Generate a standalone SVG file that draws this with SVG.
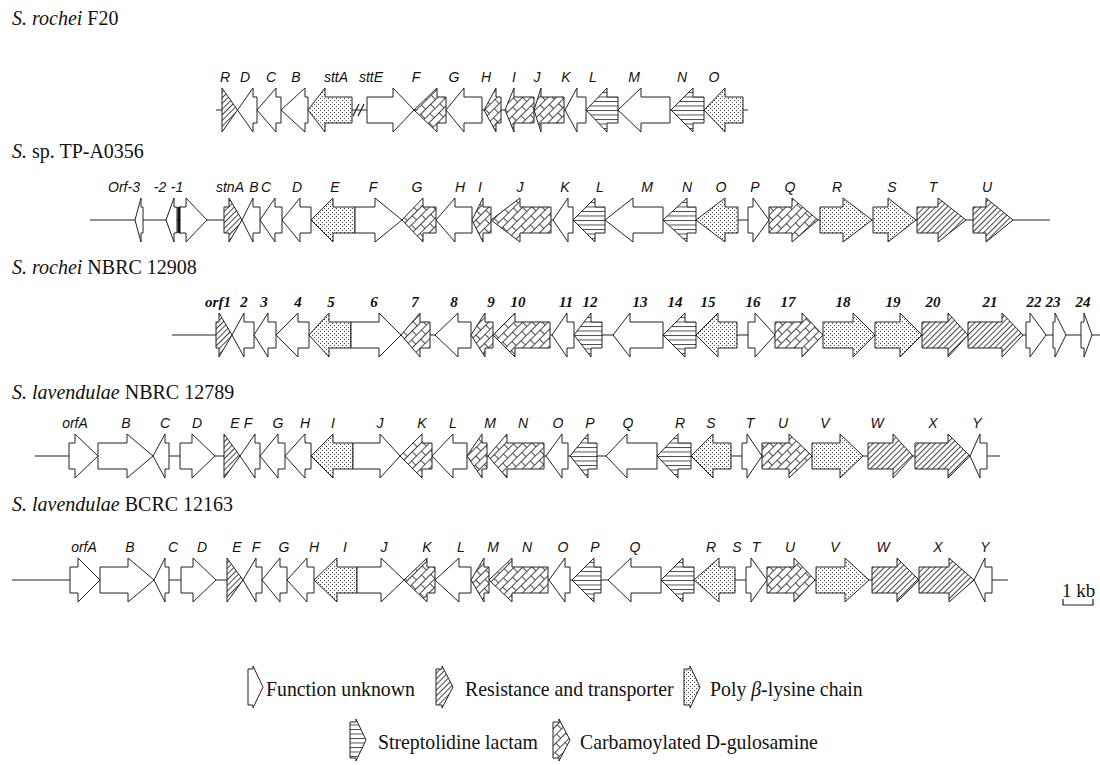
<svg xmlns="http://www.w3.org/2000/svg" width="1100" height="765" viewBox="0 0 1100 765">
<defs>
<pattern id="hatch" patternUnits="userSpaceOnUse" width="4" height="4" patternTransform="rotate(45)"><rect width="4" height="4" fill="#fff"/><line x1="0.5" y1="0" x2="0.5" y2="4" stroke="#333" stroke-width="0.9"/></pattern>
<pattern id="dots" patternUnits="userSpaceOnUse" width="4" height="4"><rect width="4" height="4" fill="#fff"/><rect x="0" y="0" width="1" height="1" fill="#444"/><rect x="2" y="2" width="1" height="1" fill="#444"/></pattern>
<pattern id="hlines" patternUnits="userSpaceOnUse" width="6" height="4.5"><rect width="6" height="4.5" fill="#fff"/><line x1="0" y1="0.5" x2="6" y2="0.5" stroke="#333" stroke-width="0.9"/></pattern>
<pattern id="brick" patternUnits="userSpaceOnUse" width="14" height="12" patternTransform="rotate(-45)"><rect width="14" height="12" fill="#fff"/><path d="M0,0.5 H14 M0,6.5 H14 M0.5,0.5 V6.5 M7.5,6.5 V12" stroke="#333" stroke-width="0.9" fill="none"/></pattern>
</defs>
<style>
polygon{stroke:#222;stroke-width:1;stroke-linejoin:miter}
.u{fill:#fff}.r{fill:url(#hatch)}.p{fill:url(#dots)}.s{fill:url(#hlines)}.c{fill:url(#brick)}
.ax{stroke:#222;stroke-width:1.2;fill:none}
.title{font-family:"Liberation Serif",serif;font-size:20px;fill:#111}
.gl{font-family:"Liberation Sans",Arial,sans-serif;font-size:14px;font-style:italic;fill:#111;text-anchor:middle}
.gn{font-family:"Liberation Serif",serif;font-size:15px;font-style:italic;font-weight:bold;fill:#111;text-anchor:middle}
.lg{font-family:"Liberation Serif",serif;font-size:22px;fill:#111}
.it{font-style:italic}
</style>
<rect width="1100" height="765" fill="#fff"/>

<g id="titles">
<text class="title" x="12" y="25"><tspan class="it">S. rochei</tspan> F20</text>
<text class="title" x="12" y="158"><tspan class="it">S.</tspan> sp. TP-A0356</text>
<text class="title" x="12" y="274"><tspan class="it">S. rochei</tspan> NBRC 12908</text>
<text class="title" x="12" y="399"><tspan class="it">S. lavendulae</tspan> NBRC 12789</text>
<text class="title" x="12" y="511"><tspan class="it">S. lavendulae</tspan> BCRC 12163</text>
</g>

<g id="connectors">
<line class="ax" x1="216" y1="110" x2="748" y2="110"/>
<line class="ax" x1="353" y1="116" x2="359" y2="104"/>
<line class="ax" x1="358" y1="116" x2="364" y2="104"/>
<line class="ax" x1="90" y1="220" x2="1050" y2="220"/>
<line class="ax" x1="172" y1="335" x2="1100" y2="335"/>
<line class="ax" x1="35" y1="456" x2="1000" y2="456"/>
<line class="ax" x1="12" y1="580" x2="1008" y2="580"/>
</g>

<!-- Row 1 -->
<g transform="translate(0,110)">
<g id="r1-R"><polygon class="r" points="222,-22 237.5,0 222,22"/><text class="gl" x="225" y="-28">R</text></g>
<g id="r1-D"><polygon class="u" points="237.5,0 253,-22 253,-13 257,-13 257,13 253,13 253,22"/><text class="gl" x="245" y="-28">D</text></g>
<g id="r1-C"><polygon class="u" points="257,0 276,-22 276,-13 281,-13 281,13 276,13 276,22"/><text class="gl" x="271" y="-28">C</text></g>
<g id="r1-B"><polygon class="u" points="281,0 305,-22 305,-13 308,-13 308,13 305,13 305,22"/><text class="gl" x="296" y="-28">B</text></g>
<g id="r1-sttA"><polygon class="p" points="308,0 325,-22 325,-13 352,-13 352,13 325,13 325,22"/><text class="gl" x="336" y="-28">sttA</text></g>
<g id="r1-sttE"><polygon class="u" points="367,-13 393,-13 393,-22 414,0 393,22 393,13 367,13"/><text class="gl" x="371" y="-28">sttE</text></g>
<g id="r1-F"><polygon class="c" points="414,0 437,-22 437,-13 446,-13 446,13 437,13 437,22"/><text class="gl" x="416" y="-28">F</text></g>
<g id="r1-G"><polygon class="u" points="446,0 464,-22 464,-13 482,-13 482,13 464,13 464,22"/><text class="gl" x="454" y="-28">G</text></g>
<g id="r1-H"><polygon class="c" points="484,0 496,-22 496,-13 501,-13 501,13 496,13 496,22"/><text class="gl" x="486" y="-28">H</text></g>
<g id="r1-I"><polygon class="c" points="505,0 514,-22 514,-13 534,-13 534,13 514,13 514,22"/><text class="gl" x="514" y="-28">I</text></g>
<g id="r1-J"><polygon class="c" points="534,0 541,-22 541,-13 564,-13 564,13 541,13 541,22"/><text class="gl" x="537" y="-28">J</text></g>
<g id="r1-K"><polygon class="u" points="565,0 577,-22 577,-13 586,-13 586,13 577,13 577,22"/><text class="gl" x="566" y="-28">K</text></g>
<g id="r1-L"><polygon class="s" points="586,0 607,-22 607,-13 618,-13 618,13 607,13 607,22"/><text class="gl" x="593" y="-28">L</text></g>
<g id="r1-M"><polygon class="u" points="618,0 641,-22 641,-13 670,-13 670,13 641,13 641,22"/><text class="gl" x="634" y="-28">M</text></g>
<g id="r1-N"><polygon class="s" points="671,0 693,-22 693,-13 704,-13 704,13 693,13 693,22"/><text class="gl" x="682" y="-28">N</text></g>
<g id="r1-O"><polygon class="p" points="704,0 725,-22 725,-13 743,-13 743,13 725,13 725,22"/><text class="gl" x="714" y="-28">O</text></g>
</g>

<!-- Row 2 -->
<g transform="translate(0,220)">
<g id="r2-orf-3"><polygon class="u" points="135,0 141,-22 141,-13 143,-13 143,13 141,13 141,22"/><text class="gl" x="124" y="-28">Orf-3</text></g>
<g id="r2-m2"><polygon class="u" points="166,0 174,-22 174,-13 177,-13 177,13 174,13 174,22"/><text class="gl" x="160" y="-28">-2</text></g>
<g id="r2-m1"><polygon class="u" points="179,-13 186,-13 186,-22 207,0 186,22 186,13 179,13"/><line x1="179" y1="-13" x2="179" y2="13" stroke="#111" stroke-width="3"/><text class="gl" x="177" y="-28">-1</text></g>
<g id="r2-stnA"><polygon class="r" points="224,-13 229,-13 229,-22 242,0 229,22 229,13 224,13"/><text class="gl" x="230" y="-28">stnA</text></g>
<g id="r2-B"><polygon class="u" points="242,0 253,-22 253,-13 260,-13 260,13 253,13 253,22"/><text class="gl" x="254" y="-28">B</text></g>
<g id="r2-C"><polygon class="u" points="260,0 275,-22 275,-13 282,-13 282,13 275,13 275,22"/><text class="gl" x="266" y="-28">C</text></g>
<g id="r2-D"><polygon class="u" points="282,0 300,-22 300,-13 311,-13 311,13 300,13 300,22"/><text class="gl" x="297" y="-28">D</text></g>
<g id="r2-E"><polygon class="p" points="311,0 333,-22 333,-13 355,-13 355,13 333,13 333,22"/><text class="gl" x="335" y="-28">E</text></g>
<g id="r2-F"><polygon class="u" points="355,-13 375,-13 375,-22 402,0 375,22 375,13 355,13"/><text class="gl" x="373" y="-28">F</text></g>
<g id="r2-G"><polygon class="c" points="402,0 423,-22 423,-13 436,-13 436,13 423,13 423,22"/><text class="gl" x="417" y="-28">G</text></g>
<g id="r2-H"><polygon class="u" points="436,0 455,-22 455,-13 472,-13 472,13 455,13 455,22"/><text class="gl" x="460" y="-28">H</text></g>
<g id="r2-I"><polygon class="c" points="472,0 483,-22 483,-13 491,-13 491,13 483,13 483,22"/><text class="gl" x="480" y="-28">I</text></g>
<g id="r2-J"><polygon class="c" points="491,0 520,-22 520,-13 551,-13 551,13 520,13 520,22"/><text class="gl" x="520" y="-28">J</text></g>
<g id="r2-K"><polygon class="u" points="553,0 568,-22 568,-13 573,-13 573,13 568,13 568,22"/><text class="gl" x="565" y="-28">K</text></g>
<g id="r2-L"><polygon class="s" points="573,0 595,-22 595,-13 605,-13 605,13 595,13 595,22"/><text class="gl" x="600" y="-28">L</text></g>
<g id="r2-M"><polygon class="u" points="605,0 633,-22 633,-13 663,-13 663,13 633,13 633,22"/><text class="gl" x="647" y="-28">M</text></g>
<g id="r2-N"><polygon class="s" points="663,0 687,-22 687,-13 696,-13 696,13 687,13 687,22"/><text class="gl" x="687" y="-28">N</text></g>
<g id="r2-O"><polygon class="p" points="696,0 725,-22 725,-13 738,-13 738,13 725,13 725,22"/><text class="gl" x="721" y="-28">O</text></g>
<g id="r2-P"><polygon class="u" points="748,-13 753,-13 753,-22 769,0 753,22 753,13 748,13"/><text class="gl" x="755" y="-28">P</text></g>
<g id="r2-Q"><polygon class="c" points="769,-13 792,-13 792,-22 818,0 792,22 792,13 769,13"/><text class="gl" x="790" y="-28">Q</text></g>
<g id="r2-R"><polygon class="p" points="820,-13 843,-13 843,-22 872,0 843,22 843,13 820,13"/><text class="gl" x="837" y="-28">R</text></g>
<g id="r2-S"><polygon class="p" points="873,-13 888,-13 888,-22 916,0 888,22 888,13 873,13"/><text class="gl" x="892" y="-28">S</text></g>
<g id="r2-T"><polygon class="r" points="917,-13 938,-13 938,-22 966,0 938,22 938,13 917,13"/><text class="gl" x="933" y="-28">T</text></g>
<g id="r2-U"><polygon class="r" points="973,-13 986,-13 986,-22 1013,0 986,22 986,13 973,13"/><text class="gl" x="987" y="-28">U</text></g>
</g>

<!-- Row 3 -->
<g transform="translate(0,335)">
<g id="r3-orf1"><polygon class="r" points="216,-13 219,-13 219,-22 232,0 219,22 219,13 216,13"/><text class="gn" x="218" y="-28">orf1</text></g>
<g id="r3-2"><polygon class="u" points="232,0 244,-22 244,-13 254,-13 254,13 244,13 244,22"/><text class="gn" x="244" y="-28">2</text></g>
<g id="r3-3"><polygon class="u" points="254,0 268,-22 268,-13 276,-13 276,13 268,13 268,22"/><text class="gn" x="264" y="-28">3</text></g>
<g id="r3-4"><polygon class="u" points="276,0 298,-22 298,-13 309,-13 309,13 298,13 298,22"/><text class="gn" x="298" y="-28">4</text></g>
<g id="r3-5"><polygon class="p" points="309,0 329,-22 329,-13 351,-13 351,13 329,13 329,22"/><text class="gn" x="331" y="-28">5</text></g>
<g id="r3-6"><polygon class="u" points="351,-13 379,-13 379,-22 401,0 379,22 379,13 351,13"/><text class="gn" x="374" y="-28">6</text></g>
<g id="r3-7"><polygon class="c" points="401,0 420,-22 420,-13 430,-13 430,13 420,13 420,22"/><text class="gn" x="415" y="-28">7</text></g>
<g id="r3-8"><polygon class="u" points="435,0 458,-22 458,-13 471,-13 471,13 458,13 458,22"/><text class="gn" x="454" y="-28">8</text></g>
<g id="r3-9"><polygon class="c" points="471,0 485,-22 485,-13 493,-13 493,13 485,13 485,22"/><text class="gn" x="491" y="-28">9</text></g>
<g id="r3-10"><polygon class="c" points="493,0 515,-22 515,-13 550,-13 550,13 515,13 515,22"/><text class="gn" x="518" y="-28">10</text></g>
<g id="r3-11"><polygon class="u" points="552,0 567,-22 567,-13 574,-13 574,13 567,13 567,22"/><text class="gn" x="566" y="-28">11</text></g>
<g id="r3-12"><polygon class="s" points="574,0 591,-22 591,-13 602,-13 602,13 591,13 591,22"/><text class="gn" x="590" y="-28">12</text></g>
<g id="r3-13"><polygon class="u" points="613,0 630,-22 630,-13 663,-13 663,13 630,13 630,22"/><text class="gn" x="640" y="-28">13</text></g>
<g id="r3-14"><polygon class="s" points="663,0 685,-22 685,-13 696,-13 696,13 685,13 685,22"/><text class="gn" x="675" y="-28">14</text></g>
<g id="r3-15"><polygon class="p" points="696,0 718,-22 718,-13 737,-13 737,13 718,13 718,22"/><text class="gn" x="708" y="-28">15</text></g>
<g id="r3-16"><polygon class="u" points="748,-13 755,-13 755,-22 775,0 755,22 755,13 748,13"/><text class="gn" x="753" y="-28">16</text></g>
<g id="r3-17"><polygon class="c" points="775,-13 802,-13 802,-22 823,0 802,22 802,13 775,13"/><text class="gn" x="788" y="-28">17</text></g>
<g id="r3-18"><polygon class="p" points="823,-13 853,-13 853,-22 875,0 853,22 853,13 823,13"/><text class="gn" x="843" y="-28">18</text></g>
<g id="r3-19"><polygon class="p" points="875,-13 900,-13 900,-22 922,0 900,22 900,13 875,13"/><text class="gn" x="893" y="-28">19</text></g>
<g id="r3-20"><polygon class="r" points="922,-13 948,-13 948,-22 968,0 948,22 948,13 922,13"/><text class="gn" x="933" y="-28">20</text></g>
<g id="r3-21"><polygon class="r" points="968,-13 1002,-13 1002,-22 1023,0 1002,22 1002,13 968,13"/><text class="gn" x="990" y="-28">21</text></g>
<g id="r3-22"><polygon class="u" points="1026,-13 1030,-13 1030,-22 1046,0 1030,22 1030,13 1026,13"/><text class="gn" x="1034" y="-28">22</text></g>
<g id="r3-23"><polygon class="u" points="1053,-13 1055,-13 1055,-22 1066,0 1055,22 1055,13 1053,13"/><text class="gn" x="1053" y="-28">23</text></g>
<g id="r3-24"><polygon class="u" points="1081,-13 1084,-13 1084,-22 1092,0 1084,22 1084,13 1081,13"/><text class="gn" x="1083" y="-28">24</text></g>
</g>

<!-- Row 4 -->
<g transform="translate(0,456)">
<g id="r4-orfA"><polygon class="u" points="69,-13 75,-13 75,-22 98,0 75,22 75,13 69,13"/><text class="gl" x="75" y="-28">orfA</text></g>
<g id="r4-B"><polygon class="u" points="98,-13 127,-13 127,-22 153,0 127,22 127,13 98,13"/><text class="gl" x="126" y="-28">B</text></g>
<g id="r4-C"><polygon class="u" points="153,0 165,-22 165,-13 169,-13 169,13 165,13 165,22"/><text class="gl" x="165" y="-28">C</text></g>
<g id="r4-D"><polygon class="u" points="180,-13 192,-13 192,-22 215,0 192,22 192,13 180,13"/><text class="gl" x="197" y="-28">D</text></g>
<g id="r4-E"><polygon class="r" points="224,-22 240,0 224,22"/><text class="gl" x="235" y="-28">E</text></g>
<g id="r4-F"><polygon class="u" points="240,0 255,-22 255,-13 260,-13 260,13 255,13 255,22"/><text class="gl" x="248" y="-28">F</text></g>
<g id="r4-G"><polygon class="u" points="260,0 278,-22 278,-13 285,-13 285,13 278,13 278,22"/><text class="gl" x="278" y="-28">G</text></g>
<g id="r4-H"><polygon class="u" points="285,0 305,-22 305,-13 311,-13 311,13 305,13 305,22"/><text class="gl" x="305" y="-28">H</text></g>
<g id="r4-I"><polygon class="p" points="311,0 333,-22 333,-13 353,-13 353,13 333,13 333,22"/><text class="gl" x="333" y="-28">I</text></g>
<g id="r4-J"><polygon class="u" points="353,-13 380,-13 380,-22 400,0 380,22 380,13 353,13"/><text class="gl" x="380" y="-28">J</text></g>
<g id="r4-K"><polygon class="c" points="400,0 422,-22 422,-13 432,-13 432,13 422,13 422,22"/><text class="gl" x="422" y="-28">K</text></g>
<g id="r4-L"><polygon class="u" points="432,0 453,-22 453,-13 467,-13 467,13 453,13 453,22"/><text class="gl" x="453" y="-28">L</text></g>
<g id="r4-M"><polygon class="c" points="467,0 482,-22 482,-13 487,-13 487,13 482,13 482,22"/><text class="gl" x="490" y="-28">M</text></g>
<g id="r4-N"><polygon class="c" points="488,0 507,-22 507,-13 544,-13 544,13 507,13 507,22"/><text class="gl" x="523" y="-28">N</text></g>
<g id="r4-O"><polygon class="u" points="546,0 562,-22 562,-13 568,-13 568,13 562,13 562,22"/><text class="gl" x="558" y="-28">O</text></g>
<g id="r4-P"><polygon class="s" points="570,0 588,-22 588,-13 597,-13 597,13 588,13 588,22"/><text class="gl" x="590" y="-28">P</text></g>
<g id="r4-Q"><polygon class="u" points="606,0 627,-22 627,-13 657,-13 657,13 627,13 627,22"/><text class="gl" x="628" y="-28">Q</text></g>
<g id="r4-R"><polygon class="s" points="657,0 678,-22 678,-13 691,-13 691,13 678,13 678,22"/><text class="gl" x="680" y="-28">R</text></g>
<g id="r4-S"><polygon class="p" points="691,0 713,-22 713,-13 731,-13 731,13 713,13 713,22"/><text class="gl" x="711" y="-28">S</text></g>
<g id="r4-T"><polygon class="u" points="742,-13 747,-13 747,-22 762,0 747,22 747,13 742,13"/><text class="gl" x="750" y="-28">T</text></g>
<g id="r4-U"><polygon class="c" points="762,-13 789,-13 789,-22 812,0 789,22 789,13 762,13"/><text class="gl" x="783" y="-28">U</text></g>
<g id="r4-V"><polygon class="p" points="812,-13 840,-13 840,-22 863,0 840,22 840,13 812,13"/><text class="gl" x="825" y="-28">V</text></g>
<g id="r4-W"><polygon class="r" points="868,-13 893,-13 893,-22 913,0 893,22 893,13 868,13"/><text class="gl" x="877" y="-28">W</text></g>
<g id="r4-X"><polygon class="r" points="915,-13 948,-13 948,-22 970,0 948,22 948,13 915,13"/><text class="gl" x="933" y="-28">X</text></g>
<g id="r4-Y"><polygon class="u" points="970,0 980,-22 980,-13 987,-13 987,13 980,13 980,22"/><text class="gl" x="977" y="-28">Y</text></g>
</g>

<!-- Row 5 -->
<g transform="translate(0,580)">
<g id="r5-orfA"><polygon class="u" points="70,-13 78,-13 78,-22 100,0 78,22 78,13 70,13"/><text class="gl" x="84" y="-28">orfA</text></g>
<g id="r5-B"><polygon class="u" points="100,-13 128,-13 128,-22 154,0 128,22 128,13 100,13"/><text class="gl" x="130" y="-28">B</text></g>
<g id="r5-C"><polygon class="u" points="154,0 165,-22 165,-13 169,-13 169,13 165,13 165,22"/><text class="gl" x="173" y="-28">C</text></g>
<g id="r5-D"><polygon class="u" points="181,-13 193,-13 193,-22 216,0 193,22 193,13 181,13"/><text class="gl" x="202" y="-28">D</text></g>
<g id="r5-E"><polygon class="r" points="227,-22 243,0 227,22"/><text class="gl" x="237" y="-28">E</text></g>
<g id="r5-F"><polygon class="u" points="243,0 256,-22 256,-13 262,-13 262,13 256,13 256,22"/><text class="gl" x="256" y="-28">F</text></g>
<g id="r5-G"><polygon class="u" points="262,0 280,-22 280,-13 287,-13 287,13 280,13 280,22"/><text class="gl" x="284" y="-28">G</text></g>
<g id="r5-H"><polygon class="u" points="287,0 307,-22 307,-13 314,-13 314,13 307,13 307,22"/><text class="gl" x="314" y="-28">H</text></g>
<g id="r5-I"><polygon class="p" points="314,0 337,-22 337,-13 357,-13 357,13 337,13 337,22"/><text class="gl" x="345" y="-28">I</text></g>
<g id="r5-J"><polygon class="u" points="357,-13 381,-13 381,-22 404,0 381,22 381,13 357,13"/><text class="gl" x="384" y="-28">J</text></g>
<g id="r5-K"><polygon class="c" points="404,0 427,-22 427,-13 435,-13 435,13 427,13 427,22"/><text class="gl" x="427" y="-28">K</text></g>
<g id="r5-L"><polygon class="u" points="435,0 459,-22 459,-13 471,-13 471,13 459,13 459,22"/><text class="gl" x="461" y="-28">L</text></g>
<g id="r5-M"><polygon class="c" points="471,0 484,-22 484,-13 489,-13 489,13 484,13 484,22"/><text class="gl" x="493" y="-28">M</text></g>
<g id="r5-N"><polygon class="c" points="489,0 512,-22 512,-13 548,-13 548,13 512,13 512,22"/><text class="gl" x="527" y="-28">N</text></g>
<g id="r5-O"><polygon class="u" points="549,0 565,-22 565,-13 570,-13 570,13 565,13 565,22"/><text class="gl" x="563" y="-28">O</text></g>
<g id="r5-P"><polygon class="s" points="572,0 594,-22 594,-13 601,-13 601,13 594,13 594,22"/><text class="gl" x="595" y="-28">P</text></g>
<g id="r5-Q"><polygon class="u" points="608,0 631,-22 631,-13 661,-13 661,13 631,13 631,22"/><text class="gl" x="635" y="-28">Q</text></g>
<g id="r5-R"><polygon class="s" points="661,0 683,-22 683,-13 694,-13 694,13 683,13 683,22"/><text class="gl" x="711" y="-28">R</text></g>
<g id="r5-S"><polygon class="p" points="694,0 719,-22 719,-13 735,-13 735,13 719,13 719,22"/><text class="gl" x="737" y="-28">S</text></g>
<g id="r5-T"><polygon class="u" points="746,-13 751,-13 751,-22 767,0 751,22 751,13 746,13"/><text class="gl" x="756" y="-28">T</text></g>
<g id="r5-U"><polygon class="c" points="767,-13 794,-13 794,-22 815,0 794,22 794,13 767,13"/><text class="gl" x="790" y="-28">U</text></g>
<g id="r5-V"><polygon class="p" points="816,-13 845,-13 845,-22 869,0 845,22 845,13 816,13"/><text class="gl" x="835" y="-28">V</text></g>
<g id="r5-W"><polygon class="r" points="872,-13 897,-13 897,-22 919,0 897,22 897,13 872,13"/><text class="gl" x="883" y="-28">W</text></g>
<g id="r5-X"><polygon class="r" points="919,-13 949,-13 949,-22 974,0 949,22 949,13 919,13"/><text class="gl" x="938" y="-28">X</text></g>
<g id="r5-Y"><polygon class="u" points="974,0 985,-22 985,-13 992,-13 992,13 985,13 985,22"/><text class="gl" x="985" y="-28">Y</text></g>
</g>

<g id="scale">
<text class="title" x="1062" y="597" style="font-size:19px">1 kb</text>
<path d="M1063,599 V605 H1093 V599" stroke="#222" stroke-width="1.2" fill="none"/>
</g>

<g id="legend">
<g id="lg-unknown"><polygon class="u" points="248,669 253,669 253,666 263,687 253,708 253,705 248,705"/><text class="lg" transform="translate(266,696) scale(0.9,1)">Function unknown</text></g>
<g id="lg-resist"><polygon class="r" points="436,669 442,669 442,666 453,687 442,708 442,705 436,705"/><text class="lg" transform="translate(465,696) scale(0.9,1)">Resistance and transporter</text></g>
<g id="lg-poly"><polygon class="p" points="684,669 690,669 690,666 700,687 690,708 690,705 684,705"/><text class="lg" transform="translate(710,696) scale(0.9,1)">Poly <tspan class="it">β</tspan>-lysine chain</text></g>
<g id="lg-strep"><polygon class="s" points="350,722 356,722 356,719 366,740 356,761 356,758 350,758"/><text class="lg" transform="translate(378,749) scale(0.9,1)">Streptolidine lactam</text></g>
<g id="lg-carb"><polygon class="c" points="553,722 559,722 559,719 570,740 559,761 559,758 553,758"/><text class="lg" transform="translate(580,749) scale(0.9,1)">Carbamoylated D-gulosamine</text></g>
</g>
</svg>
